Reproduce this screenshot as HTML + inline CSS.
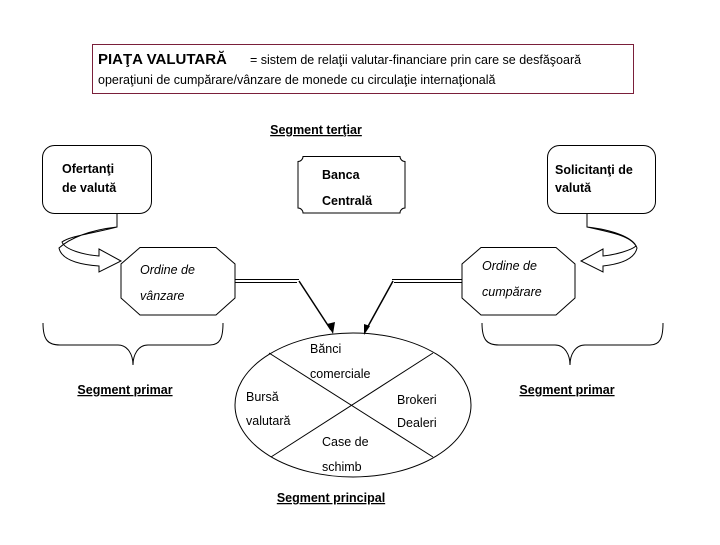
<!DOCTYPE html>
<html><head><meta charset="utf-8"><style>
body{margin:0;background:#fff;width:720px;height:540px;overflow:hidden}
svg text{font-family:"Liberation Sans",sans-serif;fill:#000}
</style></head><body>
<svg width="720" height="540" viewBox="0 0 720 540" xmlns="http://www.w3.org/2000/svg">
<rect x="92.5" y="44.5" width="541" height="49" fill="none" stroke="#7a1f3a" stroke-width="1"/>
<text x="98" y="64" font-size="15" font-weight="bold">PIAŢA VALUTARĂ</text>
<text x="250" y="64" font-size="12.5"> = sistem de relaţii valutar-financiare prin care se desfăşoară</text>
<text x="98" y="84" font-size="12.5">operaţiuni de cumpărare/vânzare de monede cu circulaţie internaţională</text>
<text x="316" y="134" font-size="12.5" font-weight="bold" text-anchor="middle" text-decoration="underline">Segment terţiar</text>
<g fill="none" stroke="#000" stroke-width="1">
<rect x="42.5" y="145.5" width="109" height="68" rx="12"/>
<rect x="547.5" y="145.5" width="108" height="68" rx="12"/>
<path d="M303,156.5 H400 a5,5 0 0 0 5,5 V208 a5,5 0 0 0 -5,5 H303 a5,5 0 0 0 -5,-5 V161.5 a5,5 0 0 0 5,-5Z"/>
<path d="M140,247.5 H216 L235,264 V298 L216,315 H140 L121,298 V264Z"/>
<path d="M481,247.5 H556 L575,264 V298 L556,315 H481 L462,298 V264Z"/>
<ellipse cx="353" cy="405" rx="118" ry="72"/>
<line x1="269" y1="353" x2="433" y2="457"/>
<line x1="433" y1="353" x2="271" y2="457"/>
<path d="M235,279.5 H299 M235,282.5 H297"/>
<path d="M299,281 L331,330" stroke-width="1.5"/>
<path d="M462,279.5 H392 M462,282.5 H394"/>
<path d="M393,281 L366,330" stroke-width="1.5"/>
<path d="M43,323 C43,340 48,345 60,345 H118 C128,345 133,355 133,365 C133,355 138,345 148,345 H210 C220,345 223,338 223,323"/>
<path d="M482,323 C482,340 487,345 499,345 H555 C565,345 570,355 570,365 C570,355 575,345 585,345 H650 C660,345 663,338 663,323"/>
<path d="M117,213 V227 C90,230 70,238 59,248 C62,262 85,265 99,266 V272 L121,261 L99,249 V256 C85,255 65,250 62,242 C70,236 90,234 117,227"/>
<path d="M587,213 V227 C614,230 634,238 637,248 C634,262 612,265 603,266 V272 L581,261 L603,249 V256 C615,255 632,250 636,246 C630,236 614,233 587,227"/>
</g>
<path d="M327,324 L333,334 L335,322Z" fill="#000"/>
<path d="M364,324 L364,335 L370,326Z" fill="#000"/>
<g font-size="12.5" font-weight="bold">
<text x="62" y="173">Ofertanţi</text><text x="62" y="192">de valută</text>
<text x="322" y="179">Banca</text><text x="322" y="205">Centrală</text>
<text x="555" y="174">Solicitanţi de</text><text x="555" y="192">valută</text>
</g>
<g font-size="12.5" font-style="italic">
<text x="140" y="274">Ordine de</text><text x="140" y="300">vânzare</text>
<text x="482" y="270">Ordine de</text><text x="482" y="296">cumpărare</text>
</g>
<g font-size="12.5">
<text x="310" y="353">Bănci</text><text x="310" y="378">comerciale</text>
<text x="246" y="401">Bursă</text><text x="246" y="425">valutară</text>
<text x="397" y="404">Brokeri</text><text x="397" y="427">Dealeri</text>
<text x="322" y="446">Case de</text><text x="322" y="471">schimb</text>
</g>
<g font-size="12.5" font-weight="bold" text-decoration="underline" text-anchor="middle">
<text x="125" y="394">Segment primar</text>
<text x="567" y="394">Segment primar</text>
<text x="331" y="502">Segment principal</text>
</g>
</svg>
</body></html>
